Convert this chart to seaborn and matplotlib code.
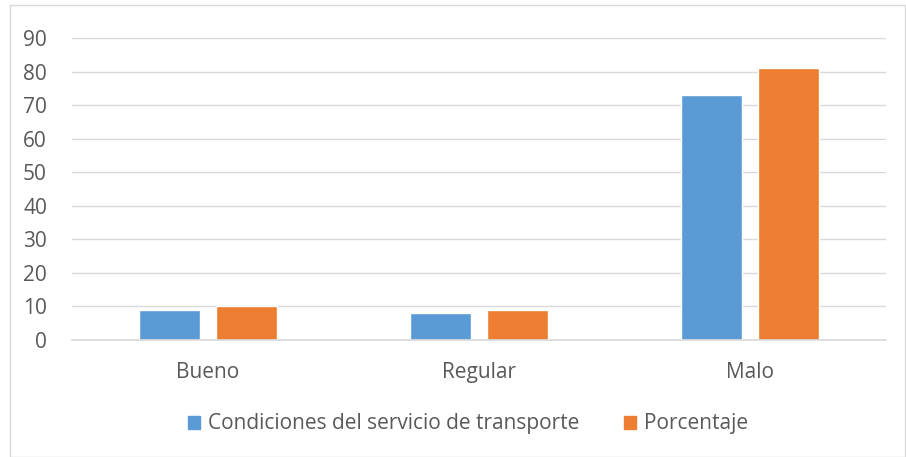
import matplotlib
matplotlib.use("Agg")
import matplotlib.pyplot as plt
import seaborn as sns
import pandas as pd
from matplotlib.patches import Rectangle

categories = ["Bueno", "Regular", "Malo"]
series_names = ["Condiciones del servicio de transporte", "Porcentaje"]
condiciones = [9, 8, 73]
porcentaje = [10, 9, 81]
yticks = [0, 10, 20, 30, 40, 50, 60, 70, 80, 90]

df = pd.DataFrame({
    "cat": categories * 2,
    "serie": [series_names[0]] * 3 + [series_names[1]] * 3,
    "val": condiciones + porcentaje,
})

sns.set_theme(style="white")
plt.rcParams['font.family'] = ['Open Sans', 'DejaVu Sans']

fig = plt.figure(figsize=(9.06, 4.57), dpi=100)
ax = fig.add_axes([72/906, 1-340/457, (886-72)/906, (340-38)/457])

sns.barplot(data=df, x="cat", y="val", hue="serie", order=categories,
            hue_order=series_names, palette=["#5b9bd5", "#ed7d31"],
            width=0.567, gap=0.21, ax=ax, legend=False, saturation=1)

ax.set_ylim(0, 90)
ax.set_yticks(yticks)
ax.set_xlabel("")
ax.set_ylabel("")
ax.yaxis.grid(True, color="#d9d9d9", linewidth=1)
ax.set_axisbelow(True)
for s in ["top", "right", "left"]:
    ax.spines[s].set_visible(False)
ax.spines["bottom"].set_color("#d9d9d9")
ax.tick_params(axis="both", colors="#595959", labelsize=15, length=0)
ax.tick_params(axis="x", pad=16)
ax.tick_params(axis="y", pad=18)

handles = [Rectangle((0, 0), 1, 1, color="#5b9bd5"), Rectangle((0, 0), 1, 1, color="#ed7d31")]
leg = fig.legend(handles, series_names, loc="center", bbox_to_anchor=(468/906, 1-424/457),
                 ncol=2, frameon=False, fontsize=15, handlelength=0.6, handleheight=0.6,
                 columnspacing=2.1, handletextpad=0.4)
for t in leg.get_texts():
    t.set_color("#595959")

fig.patches.append(Rectangle((10/906, 0), 895/906, 1-5/457, transform=fig.transFigure,
                             fill=False, edgecolor="#d9d9d9", linewidth=1))

fig.savefig("out.png", dpi=100)
